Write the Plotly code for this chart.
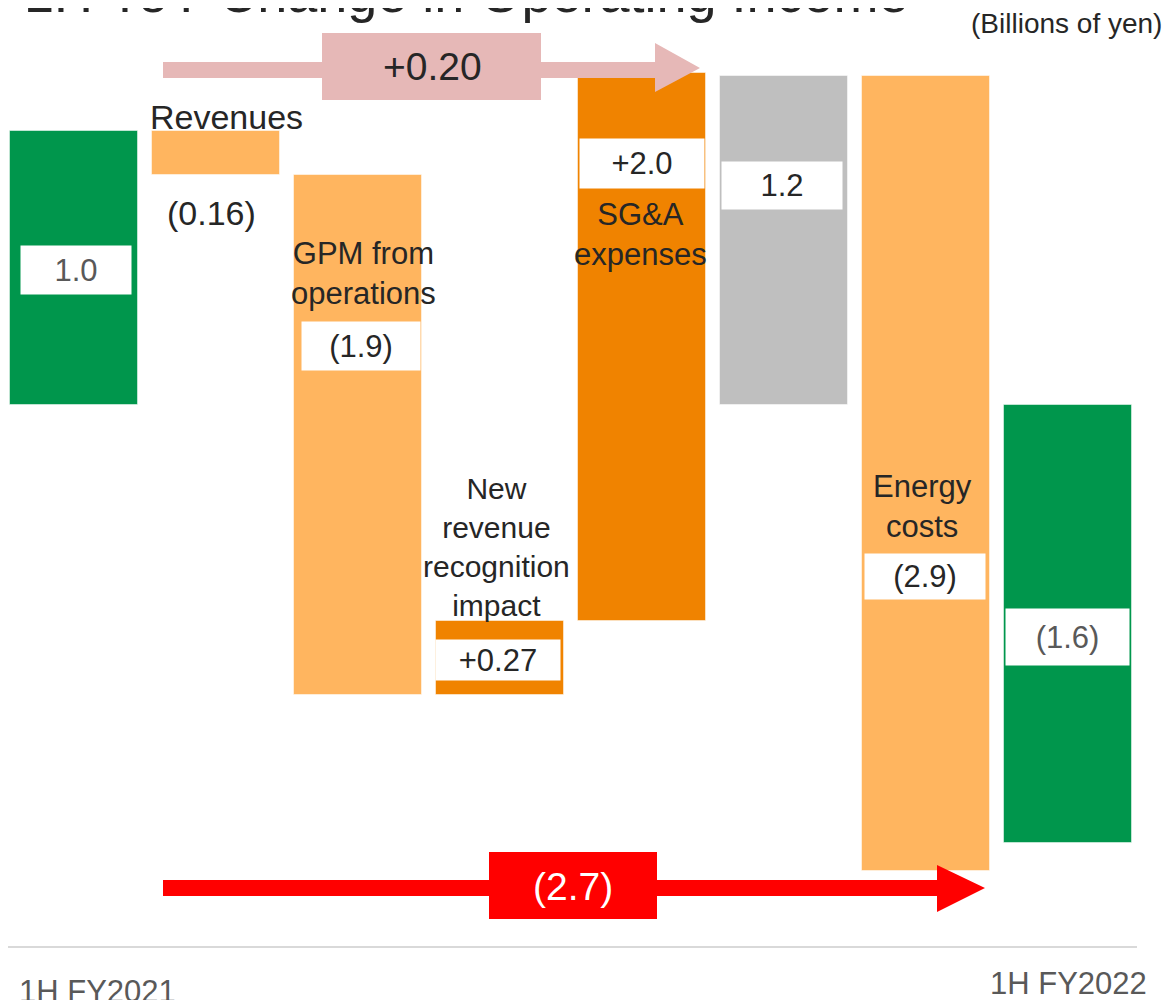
import plotly.graph_objects as go

# ---- data ----
categories = ["1H FY2021", "Revenues", "GPM from operations", "New revenue recognition impact",
              "SG&A expenses", "Subtotal", "Energy costs", "1H FY2022"]
kinds = ["total", "delta", "delta", "delta", "delta", "total", "delta", "total"]
values = [1.0, -0.16, -1.9, 0.27, 2.0, 1.2, -2.9, -1.6]
value_labels = ["1.0", "(0.16)", "(1.9)", "+0.27", "+2.0", "1.2", "(2.9)", "(1.6)"]
bar_colors = ["#00964C", "#FFB55F", "#FFB55F", "#F08300", "#F08300", "#BFBFBF", "#FFB55F", "#00964C"]
period_labels = ["1H FY2021", "1H FY2022"]
ytd_change_small = "+0.20"
ytd_change_total = "(2.7)"

# compute bases (waterfall)
bases, heights = [], []
running = 0.0
for k, v in zip(kinds, values):
    if k == "total":
        bases.append(0.0)
        heights.append(v)
        running = v
    else:
        bases.append(running)
        heights.append(v)
        running += v

OFF = 8  # page body margin
SW, SH = 1171, 1000
W, H = SW - OFF, SH - OFF
FONT = "Liberation Sans, Arial, sans-serif"
DARK = "#262626"
GREYTXT = "#595959"


def px(x):
    return (x - OFF) / W


def py(y):
    return 1 - (y - OFF) / H


fig = go.Figure()
fig.add_trace(go.Bar(
    x=list(range(len(categories))), y=heights, base=bases, width=0.9,
    marker=dict(color=bar_colors, line=dict(width=1, color="rgba(255,255,255,0.5)")),
    hoverinfo="skip", showlegend=False,
))

annotations = []


def txt(text, x, y, size, color=DARK, bg=None, w=None, h=None):
    d = dict(text=text, x=px(x), y=py(y), xref="paper", yref="paper",
             xanchor="center", yanchor="middle", showarrow=False,
             font=dict(family=FONT, size=size, color=color))
    if bg:
        d.update(bgcolor=bg)
    if w:
        d.update(width=w)
    if h:
        d.update(height=h)
    annotations.append(d)


# title and unit
txt("1H YoY Change in Operating Income", 466, -7, 54)
txt("(Billions of yen)", 1066, 24, 28)

# value boxes
txt(value_labels[0], 76, 270, 31, GREYTXT, "white", 108, 46)
txt(value_labels[1], 211, 213, 34)
txt(value_labels[2], 361, 346, 31, DARK, "white", 116, 46)
txt(value_labels[3], 498, 660, 31, DARK, "white", 122, 38)
txt(value_labels[4], 642, 164, 31, DARK, "white", 122, 47)
txt(value_labels[5], 782, 185, 31, DARK, "white", 118, 45)
txt(value_labels[6], 925, 576, 31, DARK, "white", 118, 43)
txt(value_labels[7], 1067, 637, 31, GREYTXT, "white", 121, 54)

# category labels
txt("Revenues", 226, 117, 34)
txt("GPM from<br>operations", 363, 274, 31)
txt("New<br>revenue<br>recognition<br>impact", 497, 547, 30)
txt("SG&A<br>expenses", 640, 235, 31)
txt("Energy<br>costs", 922, 506, 31)

# period labels
txt(period_labels[0], 97, 991, 31, GREYTXT)
txt(period_labels[1], 1068, 983, 31, GREYTXT)

# arrow labels
txt(ytd_change_small, 432, 67, 39, DARK)
txt(ytd_change_total, 573, 886, 39, "white")

shapes = []


def arrow_path(x0, x1, xh, yc_body_top, yc_body_bot, yh_top, yh_bot, ytip):
    pts = [(x0, yc_body_top), (xh, yc_body_top), (xh, yh_top), (x1, ytip),
           (xh, yh_bot), (xh, yc_body_bot), (x0, yc_body_bot)]
    return "M " + " L ".join(f"{px(a):.5f},{py(b):.5f}" for a, b in pts) + " Z"


# pink arrow and box
shapes.append(dict(type="path", xref="paper", yref="paper",
                   path=arrow_path(163, 700, 655, 62, 78, 43, 92, 68),
                   fillcolor="#E6B8B7", line=dict(width=0)))
shapes.append(dict(type="rect", xref="paper", yref="paper",
                   x0=px(322), x1=px(541), y0=py(100), y1=py(33),
                   fillcolor="#E6B8B7", line=dict(width=0)))
# red arrow and box
shapes.append(dict(type="path", xref="paper", yref="paper",
                   path=arrow_path(163, 985, 937, 880, 896, 865, 912, 888),
                   fillcolor="#FF0000", line=dict(width=0)))
shapes.append(dict(type="rect", xref="paper", yref="paper",
                   x0=px(489), x1=px(657), y0=py(919), y1=py(852),
                   fillcolor="#FF0000", line=dict(width=0)))
# baseline
shapes.append(dict(type="line", xref="paper", yref="paper",
                   x0=px(4), x1=px(1137), y0=py(947), y1=py(947),
                   line=dict(color="#D9D9D9", width=2)))

# axis mapping (screen px): zero at y=405px, 274px per unit; category i centered at 74+142*i px
unit = 274.0
zero_px = 405.0
yr = [(zero_px - SH) / unit, (zero_px - OFF) / unit]
xr = [(OFF - 74) / 142.0, (SW - 74) / 142.0]

fig.update_layout(
    width=W, height=H,
    margin=dict(l=0, r=0, t=0, b=0),
    paper_bgcolor="white", plot_bgcolor="white",
    xaxis=dict(range=xr, visible=False, fixedrange=True),
    yaxis=dict(range=yr, visible=False, fixedrange=True),
    annotations=annotations,
    shapes=shapes,
    bargap=0,
)

fig.write_html("out.html")
